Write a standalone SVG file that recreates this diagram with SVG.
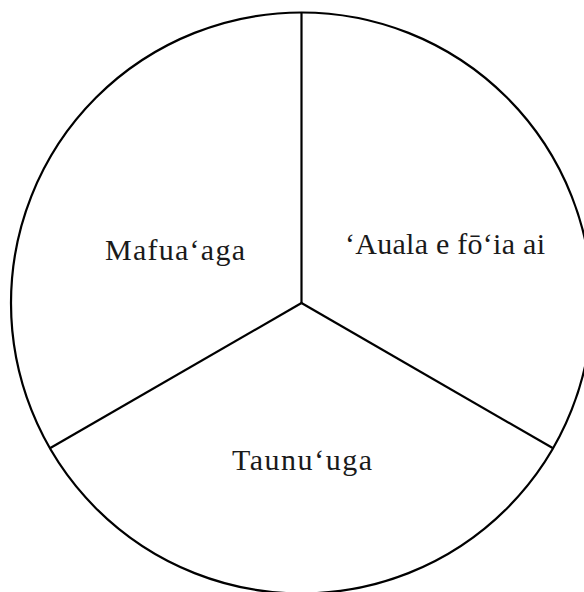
<svg xmlns="http://www.w3.org/2000/svg" width="584" height="592" viewBox="0 0 584 592">
<style>
.ln{fill:none;stroke:#000;stroke-width:2.2}
.lbl{font-family:"Liberation Serif","DejaVu Serif",serif;font-size:30px;fill:#1a1a1a}
</style>
<rect width="584" height="592" fill="#fff"/>
<g id="connectors">
<circle class="ln" cx="301.5" cy="303" r="290.5"/>
<line class="ln" x1="301.5" y1="303" x2="301.5" y2="12.5"/>
<line class="ln" x1="301.5" y1="303" x2="49.9" y2="448.3"/>
<line class="ln" x1="301.5" y1="303" x2="553.1" y2="448.3"/>
</g>
<g id="mafuaaga"><text class="lbl" x="105" y="260" textLength="140" lengthAdjust="spacing">Mafua‘aga</text></g>
<g id="auala"><text class="lbl" x="345" y="254" textLength="200" lengthAdjust="spacing">‘Auala e fō‘ia ai</text></g>
<g id="taunuuga"><text class="lbl" x="232" y="470" textLength="140" lengthAdjust="spacing">Taunu‘uga</text></g>
</svg>
